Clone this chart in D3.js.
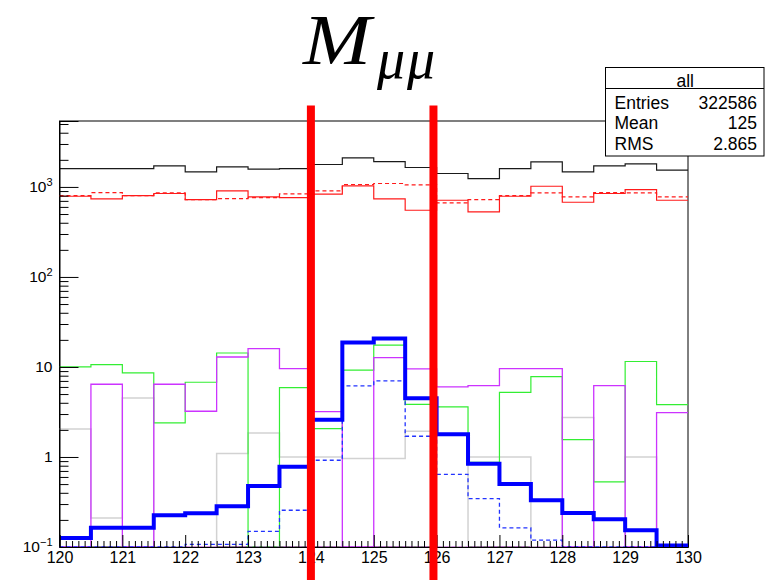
<!DOCTYPE html>
<html>
<head>
<meta charset="utf-8">
<script src="https://cdn.jsdelivr.net/npm/d3@7/dist/d3.min.js"></script>
<style>
  html, body { margin: 0; padding: 0; background: #ffffff; }
  svg { display: block; }
  .sans { font-family: "Liberation Sans", Arial, Helvetica, sans-serif; }
  .serif { font-family: "Liberation Serif", "DejaVu Serif", serif; font-style: italic; }
</style>
</head>
<body>
<svg id="chart" width="768" height="580"></svg>
<script>
// Di-muon invariant mass, 0.5 GeV bins from 120 to 130
const binLow = [120, 120.5, 121, 121.5, 122, 122.5, 123, 123.5, 124, 124.5,
                125, 125.5, 126, 126.5, 127, 127.5, 128, 128.5, 129, 129.5];
const binWidth = 0.5;

// Histogram contents (per bin)
const allTotal   = [1600, 1600, 1600, 1710, 1468, 1668, 1573, 1600, 1774, 2100,
                    1915, 1643, 1409, 1239, 1600, 1896, 1468, 1710, 1802, 1534];
const redSolid   = [788, 736, 802, 845, 724, 903, 774, 762, 830, 1026,
                    736, 551, 711, 527, 788, 1018, 676, 845, 935, 711];
const redDashed  = [801, 866, 802, 859, 724, 743, 762, 836, 903, 1064,
                    1091, 1052, 664, 724, 802, 859, 774, 866, 859, 774];
const grayHist   = [2.05, 0.21, 4.52, 0, 0, 1.09, 1.85, 1.0, 1.0, 0.96,
                    0.96, 1.93, 0, 1.0, 1.0, 0, 2.74, 0, 1.0, 0];
const greenHist  = [10.0, 10.6, 8.6, 2.39, 6.76, 14.3, 0, 5.9, 2.07, 9.2,
                    17.5, 3.85, 3.6, 0.87, 5.23, 7.8, 1.56, 0.53, 11.5, 3.82];
const magentaHist= [0, 6.43, 0, 6.43, 3.22, 12.9, 16.0, 9.6, 3.19, 0,
                    12.7, 9.5, 6.0, 6.2, 9.6, 9.6, 0, 6.2, 0, 3.11];
const magentaDashed = [0, 0, 0, 0, 0, 0, 0, 0, 0, 0,
                       0, 0, 0, 0, 0, 0, 0, 0, 0, 0];
const blueDashed = [0, 0, 0, 0, 0.107, 0.107, 0.149, 0.256, 0.92, 6.15,
                    7.0, 1.7, 0.64, 0.344, 0.163, 0.119, 0, 0, 0, 0];
const blueThick  = [0.126, 0.164, 0.164, 0.225, 0.237, 0.283, 0.477, 0.78, 2.6, 18.7,
                    20.7, 4.5, 1.79, 0.84, 0.50, 0.33, 0.239, 0.203, 0.153, 0.104];

// Mass window markers
const massWindow = [124, 125.95];

// Axis ranges and ticks
const xDomain = [120, 130];
const yDomain = [0.1, 5400];
const xMajorTicks = [120, 121, 122, 123, 124, 125, 126, 127, 128, 129, 130];
const yMajorTicks = [0.1, 1, 10, 100, 1000];
const yTickLabels = [["10", "\u22121"], ["1", ""], ["10", ""], ["10", "2"], ["10", "3"]];

// Statistics box
const statsTitle = "all";
const statsLabels = ["Entries", "Mean", "RMS"];
const statsValues = ["322586", "125", "2.865"];

const svg = d3.select("#chart");
const frame = { left: 59.5, right: 688, top: 121, bottom: 547 };

const x = d3.scaleLinear().domain(xDomain).range([frame.left, frame.right]);
const y = d3.scaleLog().domain(yDomain).range([frame.bottom, frame.top]);

// Frame
svg.append("rect")
  .attr("x", frame.left).attr("y", frame.top)
  .attr("width", frame.right - frame.left).attr("height", frame.bottom - frame.top)
  .attr("fill", "none").attr("stroke", "#000").attr("stroke-width", 1);

svg.append("defs").append("clipPath").attr("id", "plotClip")
  .append("rect")
  .attr("x", frame.left - 2).attr("y", frame.top)
  .attr("width", frame.right - frame.left + 4).attr("height", frame.bottom - frame.top + 2);

const plot = svg.append("g").attr("clip-path", "url(#plotClip)");

// Step outline of a histogram; empty / below-range bins sit on the floor
function stepPoints(values) {
  const pts = [];
  values.forEach((v, i) => {
    const yv = v > yDomain[0] ? y(v) : frame.bottom;
    pts.push([x(binLow[i]), yv]);
    pts.push([x(binLow[i] + binWidth), yv]);
  });
  return pts;
}
const line = d3.line();

function drawHist(values, color, width, dash) {
  plot.append("path")
    .attr("d", line(stepPoints(values)))
    .attr("fill", "none")
    .attr("stroke", color)
    .attr("stroke-width", width)
    .attr("stroke-dasharray", dash || null)
    .attr("stroke-linejoin", "miter");
}

drawHist(allTotal, "#1a1a1a", 1.2);
drawHist(redSolid, "#ff1a1a", 1.2);
drawHist(redDashed, "#ff1a1a", 1.2, "4,3");
drawHist(grayHist, "#d2d2d2", 1.5);
drawHist(greenHist, "#33ee33", 1.2);
drawHist(magentaHist, "#cc33ff", 1.3);
drawHist(magentaDashed, "#dd55ff", 1.2, "4,3");
drawHist(blueDashed, "#2233ff", 1.3, "4,3");
drawHist(blueThick, "#0000ff", 4);

// X axis: major ticks at integers, minor every 0.1
const xMinor = d3.range(1, 100).map(i => 120 + i * 0.1).filter(v => Math.abs(v - Math.round(v)) > 1e-6);
svg.append("g")
  .attr("transform", `translate(0,${frame.bottom})`)
  .call(d3.axisBottom(x).tickValues(xMinor).tickSize(-6).tickFormat(""))
  .call(g => g.select(".domain").remove())
  .call(g => g.selectAll("line").attr("stroke", "#000"));
svg.append("g")
  .attr("class", "sans")
  .attr("transform", `translate(0,${frame.bottom})`)
  .call(d3.axisBottom(x).tickValues(xMajorTicks).tickSize(-12).tickPadding(5).tickFormat(d3.format("d")))
  .call(g => g.select(".domain").attr("stroke", "#000"))
  .call(g => g.selectAll("line").attr("stroke", "#000"))
  .call(g => g.selectAll("text").attr("class", "sans").attr("font-size", 16).attr("fill", "#000"));

// Y axis: decades with labels, minor ticks at 2..9
const yMinor = [];
[0.1, 1, 10, 100, 1000].forEach(d => { for (let k = 2; k <= 9; k++) { const v = d * k; if (v < yDomain[1]) yMinor.push(v); } });
svg.append("g")
  .attr("transform", `translate(${frame.left},0)`)
  .call(d3.axisLeft(y).tickValues(yMinor).tickSize(-9).tickFormat(""))
  .call(g => g.select(".domain").remove())
  .call(g => g.selectAll("line").attr("stroke", "#000"));
const yAx = svg.append("g")
  .attr("transform", `translate(${frame.left},0)`)
  .call(d3.axisLeft(y).tickValues(yMajorTicks).tickSize(-19).tickPadding(7).tickFormat(""))
  .call(g => g.select(".domain").attr("stroke", "#000"))
  .call(g => g.selectAll("line").attr("stroke", "#000"));
yAx.selectAll(".tick text")
  .attr("class", "sans")
  .attr("font-size", 15.5).attr("fill", "#000")
  .each(function(d, i) {
    const t = d3.select(this);
    const lab = yTickLabels[i];
    t.append("tspan").text(lab[0]);
    if (lab[1]) {
      t.append("tspan").text(lab[1]).attr("font-size", 11).attr("dy", "-0.55em");
    }
  });

// Mass window lines
svg.selectAll(".window")
  .data(massWindow)
  .join("line")
  .attr("class", "window")
  .attr("x1", d => x(d)).attr("x2", d => x(d))
  .attr("y1", 105.5).attr("y2", 580)
  .attr("stroke", "#ff0000").attr("stroke-width", 8);

// Title: M with a mu-mu subscript
svg.append("text")
  .attr("class", "serif")
  .attr("x", 303).attr("y", 63.5)
  .attr("font-size", 71)
  .attr("textLength", 68).attr("lengthAdjust", "spacingAndGlyphs")
  .attr("fill", "#000")
  .text("M");
svg.append("text")
  .attr("class", "serif")
  .attr("x", 377).attr("y", 78)
  .attr("font-size", 56)
  .attr("letter-spacing", 2)
  .attr("fill", "#000")
  .text("\u03bc\u03bc");

// Statistics box
const box = svg.append("g").attr("class", "sans");
const bx = 605.5, by = 67.5, bw = 158.5, bh = 88.5, headH = 21;
box.append("rect").attr("x", bx).attr("y", by).attr("width", bw).attr("height", bh)
  .attr("fill", "#fff").attr("stroke", "#000").attr("stroke-width", 1);
box.append("line").attr("x1", bx).attr("x2", bx + bw).attr("y1", by + headH).attr("y2", by + headH)
  .attr("stroke", "#000").attr("stroke-width", 1);
box.append("text").attr("x", bx + bw / 2 + 0.5).attr("y", by + 19).attr("text-anchor", "middle")
  .attr("font-size", 17.5).attr("fill", "#000").text(statsTitle);
statsLabels.forEach((lab, i) => {
  const yy = by + 41 + i * 20.5;
  box.append("text").attr("x", bx + 9).attr("y", yy).attr("font-size", 17.5).attr("fill", "#000").text(lab);
  box.append("text").attr("x", bx + bw - 7).attr("y", yy).attr("text-anchor", "end")
    .attr("font-size", 17.5).attr("fill", "#000").text(statsValues[i]);
});
</script>
</body>
</html>
